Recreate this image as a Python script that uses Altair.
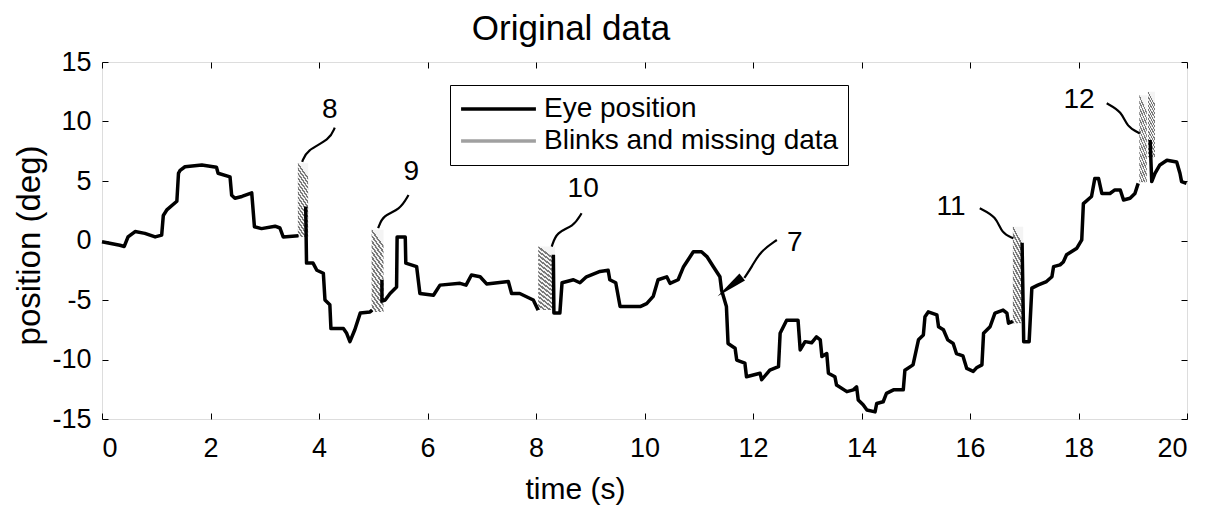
import altair as alt
import pandas as pd

FONT = "Liberation Sans"

# ---------------- data ----------------
x_ticks = [0, 2, 4, 6, 8, 10, 12, 14, 16, 18, 20]
y_ticks = [-15, -10, -5, 0, 5, 10, 15]

seg_a_t = [0.0, 0.33, 0.41, 0.48, 0.61, 0.79, 0.98, 1.10, 1.13, 1.20, 1.38, 1.41, 1.44, 1.53,
           1.84, 2.11, 2.14, 2.36, 2.39, 2.45, 2.58, 2.76, 2.81, 2.94, 3.19, 3.28, 3.34, 3.62]
seg_a_pos = [-0.1, -0.4, -0.5, 0.3, 0.75, 0.6, 0.3, 0.45, 2.1, 2.6, 3.3, 5.65, 5.9, 6.2,
             6.35, 6.15, 5.65, 5.35, 3.8, 3.55, 3.7, 4.0, 1.15, 1.0, 1.2, 1.05, 0.3, 0.4]

seg_b_t = [3.755, 3.77, 3.89, 3.96, 4.08, 4.11, 4.20, 4.22, 4.45, 4.51, 4.57, 4.66, 4.76, 4.94, 4.98]
seg_b_pos = [2.85, -1.9, -1.9, -2.5, -2.75, -5.0, -5.4, -7.4, -7.4, -7.8, -8.5, -7.5, -6.1, -6.0, -5.85]

seg_c_t = [5.16, 5.16, 5.22, 5.31, 5.43, 5.44, 5.59, 5.60, 5.80, 5.86, 6.11, 6.23, 6.60, 6.71,
           6.81, 6.97, 7.09, 7.49, 7.55, 7.70, 7.95, 8.04]
seg_c_pos = [-3.3, -5.1, -5.0, -4.45, -3.9, 0.3, 0.3, -1.9, -2.2, -4.45, -4.6, -3.75, -3.6, -3.75,
             -2.9, -3.05, -3.65, -3.45, -4.45, -4.45, -5.0, -5.85]

seg_d_t = [8.32, 8.33, 8.44, 8.48, 8.69, 8.81, 8.93, 9.18, 9.33, 9.36,
           9.47, 9.55, 9.92, 10.04, 10.16, 10.25, 10.41, 10.47, 10.62, 10.72,
           10.90, 11.05, 11.15, 11.27, 11.39, 11.42, 11.51, 11.54, 11.67, 11.70,
           11.85, 11.88, 12.13, 12.16, 12.31, 12.47, 12.50, 12.62, 12.83, 12.87,
           12.96, 13.08, 13.17, 13.24, 13.27, 13.36, 13.39, 13.51, 13.54, 13.73,
           13.85, 13.91, 13.94, 14.03, 14.10, 14.25, 14.28, 14.40, 14.46, 14.59,
           14.77, 14.80, 14.95, 15.05, 15.14, 15.17, 15.23, 15.39, 15.42, 15.51,
           15.59, 15.69, 15.75, 15.87, 15.94, 16.06, 16.12, 16.22, 16.25, 16.37,
           16.46, 16.61, 16.68, 16.71, 16.79]
seg_d_pos = [-1.2, -6.1, -6.1, -3.55, -3.3, -3.55, -3.05, -2.6, -2.5, -3.3,
             -3.55, -5.55, -5.55, -5.3, -4.7, -3.3, -3.05, -3.6, -3.3, -2.2,
             -0.95, -0.95, -1.35, -2.2, -3.05, -4.15, -5.55, -8.65, -9.05, -10.05,
             -10.3, -11.45, -11.15, -11.7, -10.9, -10.6, -7.8, -6.7, -6.7, -9.2,
             -8.5, -8.6, -8.1, -8.35, -9.75, -9.5, -11.15, -11.45, -12.15, -12.7,
             -12.55, -12.3, -13.4, -13.8, -14.25, -14.4, -13.7, -13.55, -12.85, -12.55,
             -12.55, -10.9, -10.45, -8.35, -7.95, -6.4, -6.0, -6.25, -7.25, -7.5,
             -8.35, -8.65, -9.5, -9.7, -10.75, -11.0, -10.7, -10.45, -7.8, -7.25,
             -6.1, -5.85, -6.1, -6.95, -6.8]

seg_e_t = [16.96, 16.99, 17.09, 17.14, 17.25, 17.41, 17.51, 17.54, 17.66, 17.72,
           17.78, 17.97, 18.06, 18.09, 18.24, 18.30, 18.37, 18.43, 18.58, 18.67,
           18.77, 18.83, 18.95, 19.04, 19.10]
seg_e_pos = [-0.2, -8.5, -8.5, -4.0, -3.75, -3.45, -3.05, -2.2, -2.05, -1.8,
             -1.2, -0.65, 0.05, 3.1, 3.7, 5.2, 5.2, 3.95, 3.95, 4.25,
             4.25, 3.4, 3.55, 3.95, 4.8]

seg_f_t = [19.32, 19.35, 19.41, 19.50, 19.63, 19.81, 19.87, 19.90, 19.99]
seg_f_pos = [8.45, 4.95, 5.65, 6.35, 6.75, 6.6, 5.65, 4.95, 4.8]

blink_start = [3.61, 4.97, 8.04, 16.79, 19.12, 19.28]
blink_end = [3.80, 5.19, 8.35, 16.98, 19.26, 19.41]
blink_low = [0.3, -6.0, -5.85, -6.95, 4.9, 7.0]
blink_high = [6.5, 0.9, -0.5, 1.15, 12.2, 12.5]

series_names = ["Eye position", "Blinks and missing data"]
chart_title = ["Original data"]

ann_label = ["8", "9", "10", "11", "12", "7"]
ann_t = [4.20, 5.70, 8.87, 15.65, 18.01, 12.77]
ann_pos = [10.97, 5.76, 4.33, 2.82, 11.8, -0.2]

leader_label = ["8", "9", "10", "11", "12", "7"]
leader_t = [[4.29, 4.20, 3.77, 3.69],
            [5.65, 5.49, 5.18, 5.09],
            [8.84, 8.69, 8.38, 8.29],
            [16.18, 16.49, 16.58, 16.80],
            [18.52, 18.80, 18.89, 19.13],
            [12.44, 12.13, 11.98, 11.84]]
leader_pos = [[9.48, 8.47, 7.6, 6.6],
              [3.82, 2.56, 2.14, 1.03],
              [2.29, 1.16, 0.74, -0.52],
              [2.71, 2.0, 0.6, 0.18],
              [11.53, 10.82, 9.56, 9.0],
              [0.04, -0.94, -2.2, -3.15]]

arrow_t = [11.65]
arrow_pos = [-3.6]

# ---------------- tables ----------------
segments = [(seg_a_t, seg_a_pos), (seg_b_t, seg_b_pos), (seg_c_t, seg_c_pos),
            (seg_d_t, seg_d_pos), (seg_e_t, seg_e_pos), (seg_f_t, seg_f_pos)]
rows = []
for s, (ts, ps) in enumerate(segments):
    for i, (t, p) in enumerate(zip(ts, ps)):
        rows.append({"seg": s, "idx": i, "t": t, "pos": p, "series": series_names[0]})
eye_df = pd.DataFrame(rows)

blink_df = pd.DataFrame({"start": blink_start, "end": blink_end,
                         "low": blink_low, "high": blink_high})
ann_df = pd.DataFrame({"label": ann_label, "t": ann_t, "pos": ann_pos})
lrows = []
for lab, ts, ps in zip(leader_label, leader_t, leader_pos):
    for i, (t, p) in enumerate(zip(ts, ps)):
        lrows.append({"label": lab, "idx": i, "t": t, "pos": p})
leader_df = pd.DataFrame(lrows)
arrow_df = pd.DataFrame({"t": arrow_t, "pos": arrow_pos})
title_df = pd.DataFrame({"title": chart_title})

# ---------------- styling ----------------
x_scale = alt.Scale(domain=[0, 20], nice=False, zero=False)
y_scale = alt.Scale(domain=[-15, 15], nice=False, zero=False)

n_str = 16
stops = []
for k in range(n_str):
    a = k / n_str
    b = (k + 0.5) / n_str
    c = (k + 1) / n_str
    stops += [alt.GradientStop(offset=round(a, 4), color="#f4f4f4"),
              alt.GradientStop(offset=round(b - 0.001, 4), color="#f4f4f4"),
              alt.GradientStop(offset=round(b, 4), color="#7a7a7a"),
              alt.GradientStop(offset=round(c - 0.001, 4), color="#7a7a7a")]
hatch = alt.LinearGradient(gradient="linear", x1=0.2, y1=0, x2=0, y2=1, stops=stops)

x_axis_bottom = alt.Axis(orient="bottom", values=x_ticks, grid=False, domain=False,
                         tickSize=6, offset=-6, tickColor="black",
                         labelFont=FONT, labelFontSize=27, labelColor="black",
                         labelPadding=16, labelExpr="'' + datum.value",
                         title="time (s)", titleFont=FONT, titleFontSize=30,
                         titleFontWeight="normal", titleColor="black",
                         titleX=473, titleY=76, titleBaseline="middle", titleAlign="center")
y_axis_left = alt.Axis(orient="left", values=y_ticks, grid=False, domain=False,
                       tickSize=6, offset=-6, tickColor="black",
                       labelFont=FONT, labelFontSize=27, labelColor="black",
                       labelPadding=11, labelExpr="'' + datum.value",
                       title="position (deg)", titleFont=FONT, titleFontSize=33,
                       titleFontWeight="normal", titleColor="black",
                       titleX=-79, titleY=183, titleAngle=270,
                       titleBaseline="middle", titleAlign="center")
x_axis_top = alt.Axis(orient="top", values=x_ticks, grid=False, domain=False,
                      tickSize=6, offset=-6, tickColor="black", labels=False, title=None)
y_axis_right = alt.Axis(orient="right", values=y_ticks, grid=False, domain=False,
                        tickSize=6, offset=-6, tickColor="black", labels=False, title=None)

legend = alt.Legend(title=None, orient="none", legendX=348, legendY=23,
                    symbolType="stroke", symbolSize=5600, symbolStrokeWidth=3.5,
                    clipHeight=30, labelLimit=500,
                    labelFont=FONT, labelFontSize=28, labelColor="black", labelOffset=6,
                    strokeColor="black", fillColor="white", padding=9, rowPadding=2)

# ---------------- layers ----------------
blinks = alt.Chart(blink_df).mark_rect(fill=hatch, strokeWidth=0).encode(
    x=alt.X("start:Q", scale=x_scale, axis=x_axis_bottom),
    x2="end:Q",
    y=alt.Y("low:Q", scale=y_scale, axis=y_axis_left),
    y2="high:Q",
)

eye = alt.Chart(eye_df).mark_line(strokeWidth=3.5, strokeJoin="round").encode(
    x=alt.X("t:Q", scale=x_scale, axis=x_axis_top),
    y=alt.Y("pos:Q", scale=y_scale, axis=y_axis_right),
    detail="seg:N",
    order="idx:Q",
    color=alt.Color("series:N",
                    scale=alt.Scale(domain=series_names, range=["black", "#a0a0a0"]),
                    legend=legend),
)

leaders = alt.Chart(leader_df).mark_line(strokeWidth=2.2, color="black", interpolate="basis").encode(
    x=alt.X("t:Q", scale=x_scale, axis=None),
    y=alt.Y("pos:Q", scale=y_scale, axis=None),
    detail="label:N",
    order="idx:Q",
)

arrowhead = alt.Chart(arrow_df).mark_point(shape="wedge", filled=True, size=1300, angle=232,
                                           color="black", opacity=1).encode(
    x=alt.X("t:Q", scale=x_scale, axis=None),
    y=alt.Y("pos:Q", scale=y_scale, axis=None),
)

labels = alt.Chart(ann_df).mark_text(font=FONT, fontSize=28, color="black",
                                     align="center", baseline="middle").encode(
    x=alt.X("t:Q", scale=x_scale, axis=None),
    y=alt.Y("pos:Q", scale=y_scale, axis=None),
    text="label:N",
)

title_layer = alt.Chart(title_df).mark_text(font=FONT, fontSize=35, color="black",
                                            align="center", baseline="alphabetic").encode(
    x=alt.value(469),
    y=alt.value(-22),
    text="title:N",
)

chart = alt.layer(blinks, eye, leaders, arrowhead, labels, title_layer).resolve_axis(
    x="independent", y="independent"
).properties(
    width=1085,
    height=357,
    autosize=alt.AutoSizeParams(type="none"),
    padding={"left": 94, "top": 54, "right": 23, "bottom": 86},
).configure_view(stroke="black", strokeWidth=1.2).configure(background="white")

chart.save("out.html", embed_options={"renderer": "svg", "actions": False})
